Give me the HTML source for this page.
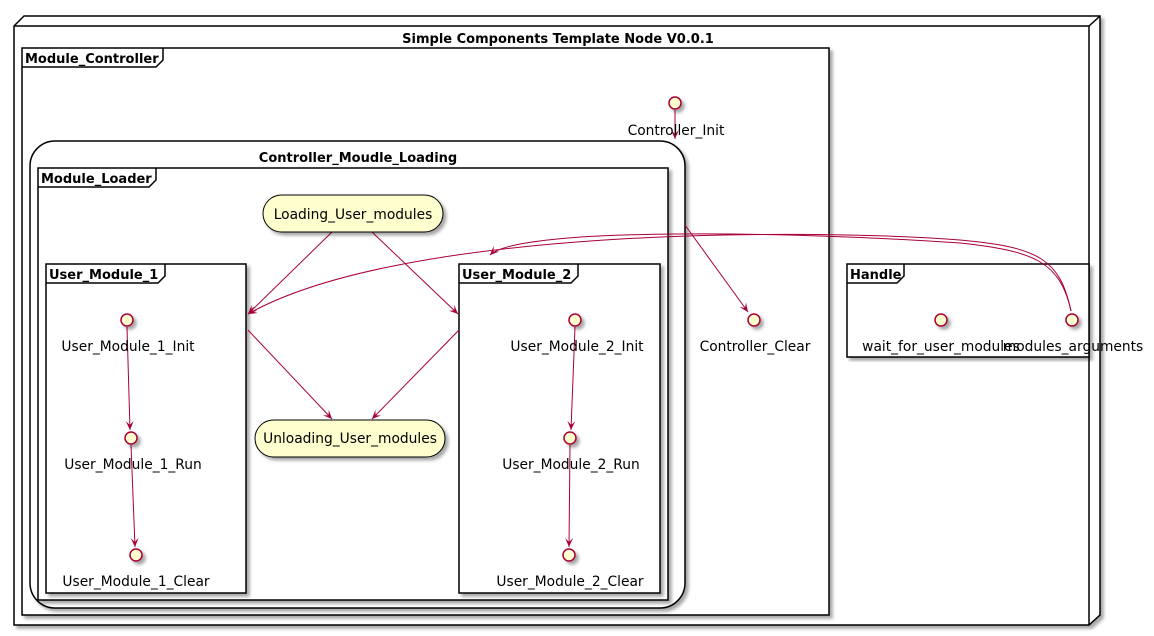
<!DOCTYPE html>
<html><head><meta charset="utf-8"><style>
html,body{margin:0;padding:0;background:#fff;width:1154px;height:636px;overflow:hidden}
svg text{font-family:"DejaVu Sans","Liberation Sans",sans-serif;font-size:13.8px;fill:#000}
svg text.b{font-weight:bold;font-size:13px}
</style></head><body>
<svg width="1154" height="636" viewBox="0 0 1154 636" xmlns="http://www.w3.org/2000/svg">
<defs>
<filter id="sh" x="-5%" y="-5%" width="110%" height="110%"><feDropShadow dx="3" dy="3" stdDeviation="1.5" flood-color="#000" flood-opacity="0.35"/></filter>
<marker id="ar" markerWidth="10" markerHeight="10" refX="9" refY="5" orient="auto" markerUnits="userSpaceOnUse"><path d="M0,1 L9,5 L0,9 L4,5 Z" fill="#A80036"/></marker>
</defs>
<g fill="none" stroke="#000" stroke-width="1.5">
<polygon points="14,26 24,16 1100,16 1100,615 1089,625 14,625" fill="#fff" filter="url(#sh)"/>
<polyline points="14,26 1089,26 1100,16"/>
<line x1="1089" y1="26" x2="1089" y2="625"/>
<rect x="22" y="48" width="807" height="567" fill="#fff" filter="url(#sh)"/>
<polyline points="22,67 156,67 163,60 163,48"/>
<rect x="30" y="141" width="655" height="467" rx="25" fill="#fff" filter="url(#sh)"/>
<rect x="38" y="168" width="630" height="432" fill="#fff" filter="url(#sh)"/>
<polyline points="38,187 149,187 156,180 156,168"/>
<rect x="46" y="264" width="200" height="329" fill="#fff" filter="url(#sh)"/>
<polyline points="46,283 158,283 165,276 165,264"/>
<rect x="459" y="264" width="201" height="329" fill="#fff" filter="url(#sh)"/>
<polyline points="459,283 571,283 578,276 578,264"/>
<rect x="847" y="264" width="242" height="93" fill="#fff" filter="url(#sh)"/>
<polyline points="847,283 897,283 904,276 904,264"/>
</g>
<text x="558" y="43" text-anchor="middle" class="b">Simple Components Template Node V0.0.1</text>
<text x="25" y="63" class="b">Module_Controller</text>
<text x="358" y="162" text-anchor="middle" class="b">Controller_Moudle_Loading</text>
<text x="41" y="183" class="b">Module_Loader</text>
<text x="49" y="279" class="b">User_Module_1</text>
<text x="462" y="279" class="b">User_Module_2</text>
<text x="850" y="279" class="b">Handle</text>

<g fill="none" stroke="#A80036" stroke-width="1">
<line x1="675" y1="110" x2="675" y2="139" marker-end="url(#ar)"/>
<line x1="685" y1="225" x2="748" y2="312" marker-end="url(#ar)"/>
<line x1="332" y1="232" x2="248" y2="314" marker-end="url(#ar)"/>
<line x1="372" y1="232" x2="458" y2="314" marker-end="url(#ar)"/>
<line x1="248" y1="330" x2="332" y2="419" marker-end="url(#ar)"/>
<line x1="459" y1="330" x2="372" y2="419" marker-end="url(#ar)"/>
<line x1="127" y1="327" x2="130" y2="430" marker-end="url(#ar)"/>
<line x1="131" y1="445" x2="135" y2="547" marker-end="url(#ar)"/>
<line x1="575" y1="327" x2="571" y2="430" marker-end="url(#ar)"/>
<line x1="570" y1="445" x2="569" y2="547" marker-end="url(#ar)"/>
<path d="M1071,311 C1060,260 1040,247 960,240 C800,228 400,228 248,314" marker-end="url(#ar)"/>
<path d="M1071,311 C1060,262 1035,251 960,243 C800,232 520,226 490,255" marker-end="url(#ar)"/>
</g>

<g stroke="#000" stroke-width="1" fill="#FEFECE" filter="url(#sh)">
<rect x="263" y="195" width="180" height="37" rx="18.5"/>
<rect x="255" y="420" width="190" height="37" rx="18.5"/>
</g>
<text x="353" y="219" text-anchor="middle">Loading_User_modules</text>
<text x="350" y="443" text-anchor="middle">Unloading_User_modules</text>

<g stroke="#A80036" stroke-width="1.5" fill="#FEFECE" filter="url(#sh)">
<circle cx="675" cy="103" r="6"/>
<circle cx="754" cy="320" r="6"/>
<circle cx="941" cy="320" r="6"/>
<circle cx="1072" cy="320" r="6"/>
<circle cx="127" cy="320" r="6"/>
<circle cx="131" cy="438" r="6"/>
<circle cx="136" cy="555" r="6"/>
<circle cx="575" cy="320" r="6"/>
<circle cx="570" cy="438" r="6"/>
<circle cx="569" cy="555" r="6"/>
</g>
<text x="676" y="135" text-anchor="middle">Controller_Init</text>
<text x="755" y="351" text-anchor="middle">Controller_Clear</text>
<text x="941" y="351" text-anchor="middle">wait_for_user_modules</text>
<text x="1073" y="351" text-anchor="middle">modules_arguments</text>
<text x="128" y="351" text-anchor="middle">User_Module_1_Init</text>
<text x="133" y="469" text-anchor="middle">User_Module_1_Run</text>
<text x="136" y="586" text-anchor="middle">User_Module_1_Clear</text>
<text x="577" y="351" text-anchor="middle">User_Module_2_Init</text>
<text x="571" y="469" text-anchor="middle">User_Module_2_Run</text>
<text x="570" y="586" text-anchor="middle">User_Module_2_Clear</text>
</svg>
</body></html>
